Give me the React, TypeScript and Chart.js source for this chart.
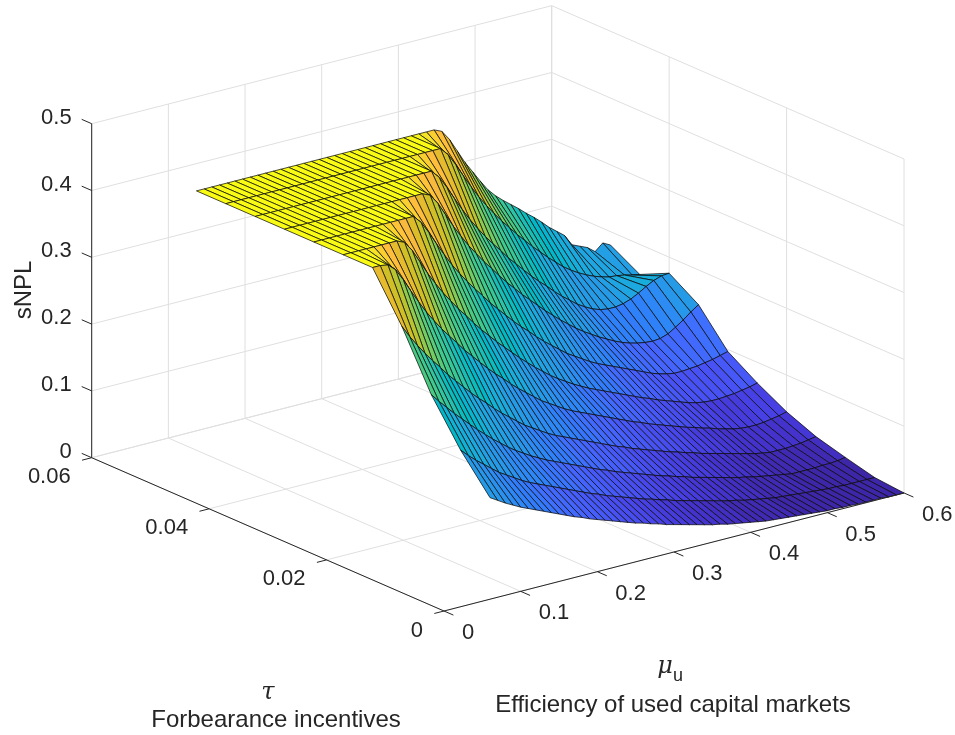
import React, { useEffect, useRef } from 'react';
import { Chart, registerables } from 'chart.js';

Chart.register(...registerables);

// ---- data ----
const tauValues = [0, 0.005, 0.01, 0.015, 0.02, 0.025, 0.03, 0.035, 0.04, 0.045, 0.05];

const muValues = [
  0.06, 0.07, 0.08, 0.09, 0.10, 0.11, 0.12, 0.13, 0.14, 0.15,
  0.16, 0.17, 0.18, 0.19, 0.20, 0.21, 0.22, 0.23, 0.24, 0.25,
  0.26, 0.27, 0.28, 0.29, 0.30, 0.31, 0.32, 0.33, 0.34, 0.35,
  0.36, 0.37, 0.38, 0.39, 0.40, 0.41, 0.42, 0.43, 0.44, 0.45,
  0.46, 0.47, 0.48, 0.49, 0.50, 0.51, 0.52, 0.53, 0.54, 0.55,
  0.56, 0.57, 0.58, 0.59, 0.60,
];

// sNPL, one row per tau value (columns follow muValues)
const snplTau000 = [
  0.152, 0.145, 0.138, 0.132, 0.126, 0.121, 0.116, 0.111, 0.106, 0.101,
  0.096, 0.091, 0.087, 0.082, 0.078, 0.074, 0.070, 0.066, 0.062, 0.058,
  0.055, 0.051, 0.048, 0.044, 0.041, 0.038, 0.035, 0.032, 0.029, 0.026,
  0.024, 0.021, 0.019, 0.017, 0.015, 0.013, 0.011, 0.010, 0.009, 0.008,
  0.007, 0.006, 0.005, 0.004, 0.003, 0.003, 0.002, 0.002, 0.001, 0.001,
  0.001, 0.001, 0.000, 0.000, 0.000,
];
const snplTau005 = [
  0.204, 0.193, 0.183, 0.174, 0.165, 0.156, 0.149, 0.142, 0.135, 0.129,
  0.124, 0.119, 0.114, 0.109, 0.104, 0.099, 0.094, 0.089, 0.085, 0.080,
  0.076, 0.072, 0.068, 0.064, 0.060, 0.057, 0.053, 0.050, 0.046, 0.043,
  0.040, 0.037, 0.034, 0.031, 0.028, 0.025, 0.023, 0.020, 0.018, 0.016,
  0.014, 0.012, 0.011, 0.010, 0.009, 0.008, 0.007, 0.006, 0.005, 0.005,
  0.004, 0.004, 0.004, 0.004, 0.004,
];
const snplTau010 = [
  0.268, 0.255, 0.243, 0.231, 0.220, 0.209, 0.198, 0.188, 0.178, 0.169,
  0.160, 0.152, 0.145, 0.138, 0.132, 0.126, 0.121, 0.116, 0.111, 0.106,
  0.101, 0.096, 0.091, 0.087, 0.082, 0.078, 0.074, 0.070, 0.066, 0.062,
  0.058, 0.055, 0.051, 0.048, 0.044, 0.041, 0.038, 0.035, 0.032, 0.029,
  0.026, 0.024, 0.021, 0.019, 0.017, 0.015, 0.013, 0.011, 0.011, 0.011,
  0.011, 0.012, 0.012, 0.013, 0.015,
];
const snplTau015 = [
  0.351, 0.333, 0.317, 0.302, 0.288, 0.275, 0.261, 0.249, 0.237, 0.225,
  0.214, 0.204, 0.193, 0.183, 0.174, 0.165, 0.156, 0.149, 0.142, 0.135,
  0.129, 0.124, 0.119, 0.114, 0.109, 0.104, 0.099, 0.094, 0.089, 0.085,
  0.080, 0.076, 0.072, 0.068, 0.064, 0.060, 0.057, 0.053, 0.050, 0.046,
  0.043, 0.040, 0.037, 0.034, 0.031, 0.028, 0.025, 0.023, 0.021, 0.021,
  0.021, 0.022, 0.023, 0.025, 0.027,
];
const snplTau020 = [
  0.420, 0.420, 0.418, 0.408, 0.390, 0.370, 0.351, 0.333, 0.317, 0.302,
  0.288, 0.275, 0.261, 0.249, 0.237, 0.225, 0.214, 0.204, 0.193, 0.183,
  0.174, 0.165, 0.156, 0.149, 0.142, 0.135, 0.129, 0.124, 0.119, 0.114,
  0.109, 0.104, 0.099, 0.094, 0.089, 0.085, 0.080, 0.076, 0.072, 0.068,
  0.064, 0.060, 0.057, 0.053, 0.050, 0.046, 0.043, 0.040, 0.038, 0.037,
  0.037, 0.038, 0.040, 0.042, 0.045,
];
const snplTau025 = [
  0.420, 0.420, 0.420, 0.420, 0.420, 0.420, 0.420, 0.420, 0.415, 0.400,
  0.380, 0.360, 0.342, 0.325, 0.310, 0.295, 0.282, 0.268, 0.255, 0.243,
  0.231, 0.220, 0.209, 0.198, 0.188, 0.178, 0.169, 0.160, 0.152, 0.145,
  0.138, 0.132, 0.126, 0.121, 0.116, 0.111, 0.106, 0.101, 0.096, 0.091,
  0.087, 0.082, 0.078, 0.074, 0.070, 0.066, 0.063, 0.061, 0.060, 0.060,
  0.061, 0.062, 0.064, 0.066, 0.069,
];
const snplTau030 = [
  0.420, 0.420, 0.420, 0.420, 0.420, 0.420, 0.420, 0.420, 0.420, 0.420,
  0.420, 0.420, 0.420, 0.420, 0.408, 0.390, 0.370, 0.351, 0.333, 0.317,
  0.302, 0.288, 0.275, 0.261, 0.249, 0.237, 0.225, 0.214, 0.204, 0.193,
  0.183, 0.174, 0.165, 0.156, 0.149, 0.142, 0.135, 0.129, 0.124, 0.119,
  0.114, 0.109, 0.104, 0.099, 0.094, 0.090, 0.087, 0.085, 0.085, 0.086,
  0.087, 0.089, 0.091, 0.094, 0.097,
];
const snplTau035 = [
  0.420, 0.420, 0.420, 0.420, 0.420, 0.420, 0.420, 0.420, 0.420, 0.420,
  0.420, 0.420, 0.420, 0.420, 0.420, 0.420, 0.420, 0.420, 0.420, 0.415,
  0.400, 0.380, 0.360, 0.342, 0.325, 0.310, 0.295, 0.282, 0.268, 0.255,
  0.243, 0.231, 0.220, 0.209, 0.198, 0.188, 0.178, 0.169, 0.160, 0.152,
  0.145, 0.138, 0.132, 0.126, 0.121, 0.117, 0.114, 0.112, 0.111, 0.112,
  0.116, 0.123, 0.131, 0.140, 0.148,
];
const snplTau040 = [
  0.420, 0.420, 0.420, 0.420, 0.420, 0.420, 0.420, 0.420, 0.420, 0.420,
  0.420, 0.420, 0.420, 0.420, 0.420, 0.420, 0.420, 0.420, 0.420, 0.420,
  0.420, 0.420, 0.420, 0.420, 0.408, 0.390, 0.370, 0.351, 0.333, 0.317,
  0.302, 0.288, 0.275, 0.261, 0.249, 0.237, 0.225, 0.214, 0.204, 0.193,
  0.183, 0.174, 0.165, 0.158, 0.152, 0.148, 0.146, 0.146, 0.148, 0.152,
  0.158, 0.165, 0.171, 0.175, 0.176,
];
const snplTau045 = [
  0.420, 0.420, 0.420, 0.420, 0.420, 0.420, 0.420, 0.420, 0.420, 0.420,
  0.420, 0.420, 0.420, 0.420, 0.420, 0.420, 0.420, 0.420, 0.420, 0.420,
  0.420, 0.420, 0.420, 0.420, 0.420, 0.420, 0.420, 0.420, 0.420, 0.408,
  0.390, 0.370, 0.351, 0.333, 0.317, 0.302, 0.288, 0.275, 0.262, 0.250,
  0.238, 0.227, 0.216, 0.206, 0.196, 0.188, 0.181, 0.175, 0.170, 0.166,
  0.163, 0.162, 0.160, 0.157, 0.155,
];
const snplTau050 = [
  0.420, 0.420, 0.420, 0.420, 0.420, 0.420, 0.420, 0.420, 0.420, 0.420,
  0.420, 0.420, 0.420, 0.420, 0.420, 0.420, 0.420, 0.420, 0.420, 0.420,
  0.420, 0.420, 0.420, 0.420, 0.420, 0.420, 0.420, 0.420, 0.420, 0.420,
  0.420, 0.420, 0.415, 0.400, 0.380, 0.360, 0.343, 0.326, 0.310, 0.298,
  0.288, 0.279, 0.270, 0.260, 0.251, 0.241, 0.230, 0.221, 0.212, 0.195,
  0.190, 0.185, 0.176, 0.186, 0.180,
];

const snplRows = [
  snplTau000, snplTau005, snplTau010, snplTau015, snplTau020, snplTau025,
  snplTau030, snplTau035, snplTau040, snplTau045, snplTau050,
];

// axes
const muTicks = [0, 0.1, 0.2, 0.3, 0.4, 0.5, 0.6];
const muTickLabels = ['0', '0.1', '0.2', '0.3', '0.4', '0.5', '0.6'];
const tauTicks = [0, 0.02, 0.04, 0.06];
const tauTickLabels = ['0', '0.02', '0.04', '0.06'];
const zTicks = [0, 0.1, 0.2, 0.3, 0.4, 0.5];
const zTickLabels = ['0', '0.1', '0.2', '0.3', '0.4', '0.5'];
const MU_MAX = 0.6;
const TAU_MAX = 0.06;
const Z_MAX = 0.5;

// matlab parula, 64 steps
const PARULA = [
  [0.2422, 0.1504, 0.6603], [0.2504, 0.1650, 0.7076], [0.2578, 0.1818, 0.7511], [0.2647, 0.1978, 0.7952],
  [0.2706, 0.2147, 0.8364], [0.2751, 0.2342, 0.8710], [0.2783, 0.2559, 0.8991], [0.2803, 0.2782, 0.9221],
  [0.2813, 0.3006, 0.9414], [0.2810, 0.3228, 0.9579], [0.2795, 0.3447, 0.9717], [0.2760, 0.3667, 0.9829],
  [0.2699, 0.3892, 0.9906], [0.2602, 0.4123, 0.9952], [0.2440, 0.4358, 0.9988], [0.2206, 0.4603, 0.9973],
  [0.1963, 0.4847, 0.9892], [0.1834, 0.5074, 0.9798], [0.1786, 0.5289, 0.9682], [0.1764, 0.5499, 0.9520],
  [0.1687, 0.5703, 0.9359], [0.1540, 0.5902, 0.9218], [0.1460, 0.6091, 0.9079], [0.1380, 0.6276, 0.8973],
  [0.1248, 0.6459, 0.8883], [0.1113, 0.6635, 0.8763], [0.0952, 0.6798, 0.8598], [0.0689, 0.6948, 0.8394],
  [0.0297, 0.7082, 0.8163], [0.0036, 0.7203, 0.7917], [0.0067, 0.7312, 0.7660], [0.0433, 0.7411, 0.7394],
  [0.0964, 0.7500, 0.7120], [0.1408, 0.7584, 0.6842], [0.1717, 0.7670, 0.6554], [0.1938, 0.7758, 0.6251],
  [0.2161, 0.7843, 0.5923], [0.2470, 0.7918, 0.5567], [0.2906, 0.7973, 0.5188], [0.3406, 0.8008, 0.4789],
  [0.3909, 0.8029, 0.4354], [0.4456, 0.8024, 0.3909], [0.5044, 0.7993, 0.3480], [0.5616, 0.7942, 0.3045],
  [0.6174, 0.7876, 0.2612], [0.6720, 0.7793, 0.2227], [0.7242, 0.7698, 0.1910], [0.7738, 0.7598, 0.1646],
  [0.8203, 0.7498, 0.1535], [0.8634, 0.7406, 0.1596], [0.9035, 0.7330, 0.1774], [0.9393, 0.7288, 0.2100],
  [0.9728, 0.7298, 0.2394], [0.9956, 0.7434, 0.2371], [0.9970, 0.7659, 0.2199], [0.9952, 0.7893, 0.2028],
  [0.9892, 0.8136, 0.1885], [0.9786, 0.8386, 0.1766], [0.9676, 0.8639, 0.1643], [0.9610, 0.8890, 0.1537],
  [0.9597, 0.9135, 0.1423], [0.9628, 0.9373, 0.1265], [0.9691, 0.9606, 0.1064], [0.9769, 0.9839, 0.0805],
];

// camera: where the box corners land in the 955x735 picture
const VIEW = {
  ox: 444, oy: 611,           // mu = 0, tau = 0, z = 0
  muX: 766.7, muY: -196.7,    // per unit of mu
  tauX: -5871.7, tauY: -2555, // per unit of tau
  zY: -668,                   // per unit of z
};

type P = { x: number; y: number };
const project = (mu: number, tau: number, z: number): P => ({
  x: VIEW.ox + mu * VIEW.muX + tau * VIEW.tauX,
  y: VIEW.oy + mu * VIEW.muY + tau * VIEW.tauY + z * VIEW.zY,
});

// far faces first: larger depth -> larger order -> drawn earlier
const depthOf = (mu: number, tau: number) => (mu / MU_MAX) * 0.78 + tau / TAU_MAX;

const parula = (t: number) => {
  const k = Math.min(63, Math.max(0, Math.floor(t * 64)));
  const [r, g, b] = PARULA[k];
  return `rgb(${Math.round(r * 255)},${Math.round(g * 255)},${Math.round(b * 255)})`;
};

const GRID = '#dfdfdf';
const AXIS = '#262626';

function segment(a: P, b: P, color: string, width: number, order: number) {
  return {
    type: 'line' as const,
    data: [a, b],
    borderColor: color,
    borderWidth: width,
    pointRadius: 0,
    fill: false,
    order,
  };
}

function buildDatasets() {
  const sets: any[] = [];

  // back walls and floor grid
  muTicks.forEach((m) => {
    sets.push(segment(project(m, 0, 0), project(m, TAU_MAX, 0), GRID, 1, 1000));
    sets.push(segment(project(m, TAU_MAX, 0), project(m, TAU_MAX, Z_MAX), GRID, 1, 1000));
  });
  tauTicks.forEach((t) => {
    sets.push(segment(project(0, t, 0), project(MU_MAX, t, 0), GRID, 1, 1000));
    sets.push(segment(project(MU_MAX, t, 0), project(MU_MAX, t, Z_MAX), GRID, 1, 1000));
  });
  zTicks.forEach((z) => {
    sets.push(segment(project(0, TAU_MAX, z), project(MU_MAX, TAU_MAX, z), GRID, 1, 1000));
    sets.push(segment(project(MU_MAX, 0, z), project(MU_MAX, TAU_MAX, z), GRID, 1, 1000));
  });

  // surface, flat faces coloured from their front vertex on the high-mu side
  let zMin = Infinity;
  let zMax = -Infinity;
  snplRows.forEach((row) => row.forEach((v) => { zMin = Math.min(zMin, v); zMax = Math.max(zMax, v); }));
  for (let i = 0; i < tauValues.length - 1; i++) {
    for (let j = 0; j < muValues.length - 1; j++) {
      const t0 = tauValues[i], t1 = tauValues[i + 1];
      const m0 = muValues[j], m1 = muValues[j + 1];
      const a = project(m0, t0, snplRows[i][j]);
      const b = project(m1, t0, snplRows[i][j + 1]);
      const c = project(m1, t1, snplRows[i + 1][j + 1]);
      const d = project(m0, t1, snplRows[i + 1][j]);
      sets.push({
        type: 'line' as const,
        data: [a, b, c, d, a],
        borderColor: 'rgba(10,10,10,0.92)',
        borderWidth: 0.8,
        borderJoinStyle: 'round',
        backgroundColor: parula((snplRows[i][j + 1] - zMin) / (zMax - zMin)),
        fill: 'shape',
        pointRadius: 0,
        order: 10 + depthOf((m0 + m1) / 2, (t0 + t1) / 2),
      });
    }
  }

  // axes with tick marks
  sets.push(segment(project(0, 0, 0), project(MU_MAX, 0, 0), AXIS, 1, -1));
  sets.push(segment(project(0, 0, 0), project(0, TAU_MAX, 0), AXIS, 1, -1));
  sets.push(segment(project(0, TAU_MAX, 0), project(0, TAU_MAX, Z_MAX), AXIS, 1, -1));
  muTicks.forEach((m) => sets.push(segment(project(m, 0, 0), project(m, -0.0016, 0), AXIS, 1, -1)));
  tauTicks.forEach((t) => sets.push(segment(project(0, t, 0), project(-0.0126, t, 0), AXIS, 1, -1)));
  zTicks.forEach((z) => sets.push(segment(project(0, TAU_MAX, z), project(0, TAU_MAX + 0.0017, z), AXIS, 1, -1)));

  return sets;
}

const textPlugin = {
  id: 'axisText',
  afterDraw(chart: Chart) {
    const { ctx } = chart;
    const sx = chart.scales.x;
    const sy = chart.scales.y;
    const at = (p: P) => ({ x: sx.getPixelForValue(p.x), y: sy.getPixelForValue(p.y) });
    ctx.save();
    ctx.fillStyle = AXIS;
    ctx.font = '22px "Liberation Sans", Arial, sans-serif';
    ctx.textBaseline = 'middle';

    ctx.textAlign = 'right';
    zTicks.forEach((z, k) => {
      const p = at(project(0, TAU_MAX, z));
      ctx.fillText(zTickLabels[k], p.x - 20, p.y - 6);
    });
    tauTicks.forEach((t, k) => {
      const p = at(project(0, t, 0));
      ctx.fillText(tauTickLabels[k], p.x - 21, p.y + 19.5);
    });
    ctx.textAlign = 'left';
    muTicks.forEach((m, k) => {
      const p = at(project(m, 0, 0));
      ctx.fillText(muTickLabels[k], p.x + 18, p.y + 22);
    });

    // axis titles
    ctx.font = '24px "Liberation Sans", Arial, sans-serif';
    ctx.textAlign = 'center';
    ctx.textBaseline = 'alphabetic';
    ctx.save();
    ctx.translate(31, 290);
    ctx.rotate(-Math.PI / 2);
    ctx.fillText('sNPL', 0, 0);
    ctx.restore();

    ctx.fillText('Forbearance incentives', 276, 727);
    ctx.fillText('Efficiency of used capital markets', 673, 712);

    ctx.font = 'italic 24px "DejaVu Serif", serif';
    ctx.fillText('τ', 268, 699);
    ctx.fillText('μ', 665, 673);
    ctx.font = '18px "Liberation Sans", Arial, sans-serif';
    ctx.textAlign = 'left';
    ctx.fillText('u', 673, 681);
    ctx.restore();
  },
};

const SurfaceChart: React.FC = () => {
  const canvasRef = useRef<HTMLCanvasElement>(null);
  const chartRef = useRef<Chart | null>(null);

  useEffect(() => {
    if (!canvasRef.current) return;
    if (chartRef.current) chartRef.current.destroy();
    chartRef.current = new Chart(canvasRef.current, {
      type: 'scatter',
      data: { datasets: buildDatasets() },
      options: {
        animation: false,
        responsive: true,
        maintainAspectRatio: false,
        events: [],
        layout: { padding: 0 },
        scales: {
          x: { type: 'linear', min: 0, max: 955, display: false },
          y: { type: 'linear', min: 0, max: 735, reverse: true, display: false },
        },
        plugins: { legend: { display: false }, tooltip: { enabled: false } },
      },
      plugins: [textPlugin],
    } as any);
    return () => {
      if (chartRef.current) {
        chartRef.current.destroy();
        chartRef.current = null;
      }
    };
  }, []);

  return (
    <div style={{ position: 'fixed', left: 0, top: 0, width: 955, height: 735, background: '#fff' }}>
      <canvas ref={canvasRef} />
    </div>
  );
};

export default function App() {
  return <SurfaceChart />;
}
